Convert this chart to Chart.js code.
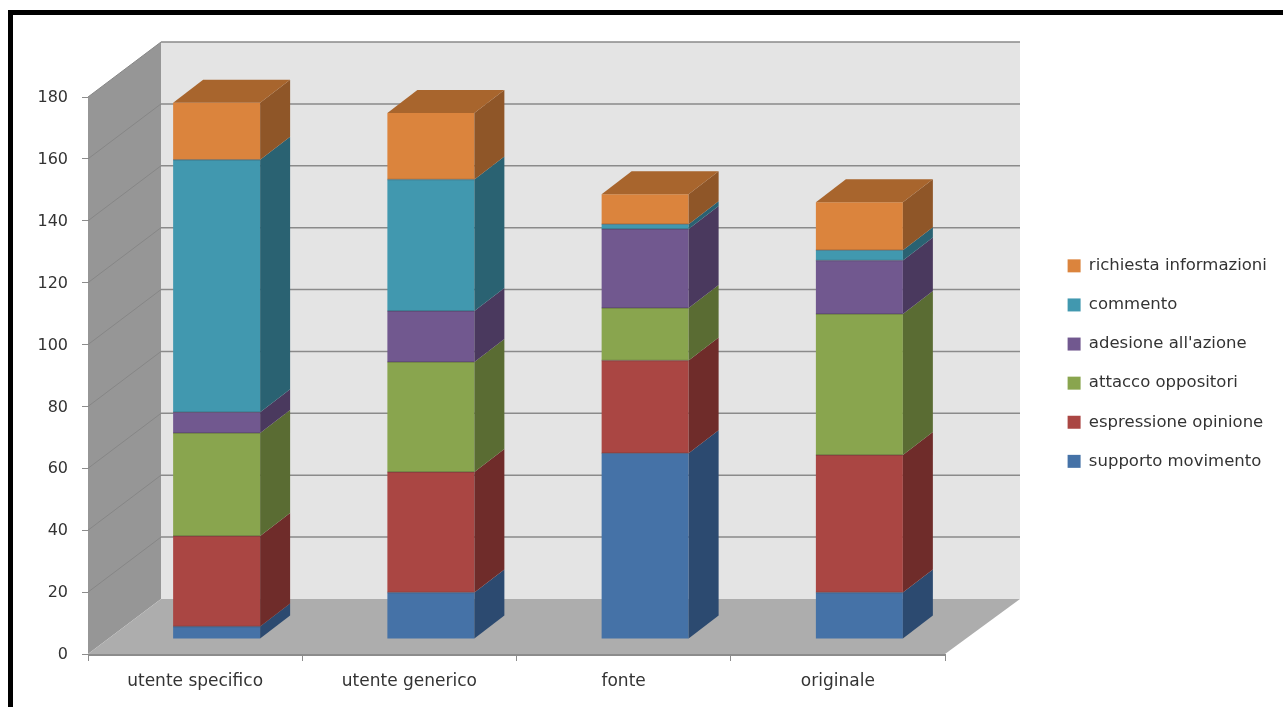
<!DOCTYPE html>
<html>
<head>
<meta charset="utf-8">
<title>Grafico</title>
<script src="https://cdn.jsdelivr.net/npm/chart.js@4"></script>
<style>
    html, body { margin: 0; padding: 0; background: #fff; overflow: hidden; }
    #wrap { position: absolute; left: 0; top: 0; width: 1283px; height: 707px; overflow: hidden; }
    #frame { position: absolute; left: 8px; top: 10px; right: 0; bottom: 0; border-top: 5px solid #000; border-left: 5px solid #000; pointer-events: none; }
</style>
</head>
<body>
<div id="wrap">
    <canvas id="chart" width="1283" height="707"></canvas>
    <div id="frame"></div>
</div>
<script>
const categories = ['utente specifico', 'utente generico', 'fonte', 'originale'];
const supportoMovimento = [4, 15, 60, 15];
const espressioneOpinione = [29.3, 39, 30, 44.5];
const attaccoOppositori = [33.3, 35.5, 17, 45.5];
const adesioneAzione = [6.7, 16.5, 25.5, 17.3];
const commento = [81.6, 42.5, 1.5, 3.3];
const richiestaInformazioni = [18.4, 21.5, 9.7, 15.5];

const frontColors = ['#4572a7', '#aa4643', '#89a54e', '#71588f', '#4198af', '#db843d'];
const sideColors = ['#2c4a70', '#6f2c2a', '#5a6c33', '#4a395e', '#2a6272', '#8f5628'];
const topColors = ['#35587f', '#853533', '#6a7f3c', '#57436e', '#327586', '#a8652d'];

// Offset of the wall/floor depth and of the bars inside it
const DEPTH_X = 73, DEPTH_X_RIGHT = 75, DEPTH_Y = -55;
const BAR_SHIFT_X = 21.5, BAR_SHIFT_Y = -15;
const BAR_DEPTH_X = 30, BAR_DEPTH_Y = -23;
const tickFont = { family: 'DejaVu Sans', size: 16 };
const categoryFont = { family: 'DejaVu Sans', size: 17 };
const legendFont = { family: 'DejaVu Sans', size: 16.5 };

function poly(ctx, pts, fill) {
    ctx.beginPath();
    pts.forEach((p, i) => i ? ctx.lineTo(p[0], p[1]) : ctx.moveTo(p[0], p[1]));
    ctx.closePath();
    ctx.fillStyle = fill;
    ctx.fill();
}

// Back wall, side wall, floor and the grid lines that run over them
const roomPlugin = {
    id: 'room',
    beforeDatasetsDraw(chart) {
        const { ctx, chartArea: a, scales: { y } } = chart;
        const top = y.getPixelForValue(180), base = y.getPixelForValue(0);
        const backL = a.left + DEPTH_X, backR = a.right + DEPTH_X_RIGHT;
        ctx.save();
        poly(ctx, [[backL, top + DEPTH_Y], [backR, top + DEPTH_Y], [backR, base + DEPTH_Y], [backL, base + DEPTH_Y]], '#e4e4e4');
        poly(ctx, [[a.left, top], [backL, top + DEPTH_Y], [backL, base + DEPTH_Y], [a.left, base]], '#969696');
        poly(ctx, [[a.left, base], [backL, base + DEPTH_Y], [backR, base + DEPTH_Y], [a.right, base]], '#adadad');
        y.ticks.forEach(t => {
            const py = y.getPixelForValue(t.value);
            if (t.value > 0) {
                ctx.strokeStyle = '#868686';
                ctx.lineWidth = 1;
                ctx.beginPath();
                ctx.moveTo(a.left, py);
                ctx.lineTo(backL, py + DEPTH_Y);
                ctx.stroke();
                ctx.strokeStyle = '#8a8a8a';
                ctx.lineWidth = 1.5;
                ctx.beginPath();
                ctx.moveTo(backL, py + DEPTH_Y);
                ctx.lineTo(backR, py + DEPTH_Y);
                ctx.stroke();
            }
        });
        // front edge of the floor
        ctx.strokeStyle = '#8c8c8c';
        ctx.lineWidth = 2;
        ctx.beginPath();
        ctx.moveTo(a.left, base + 1);
        ctx.lineTo(a.right, base + 1);
        ctx.stroke();
        ctx.restore();

        // the stacked columns stand in the middle of the floor
        ctx.save();
        ctx.translate(BAR_SHIFT_X, BAR_SHIFT_Y);
    },
    afterDatasetsDraw(chart) {
        const { ctx } = chart;
        const last = chart.data.datasets.length - 1;
        chart.data.datasets.forEach((ds, i) => {
            const meta = chart.getDatasetMeta(i);
            meta.data.forEach(bar => {
                const half = bar.width / 2;
                const r = bar.x + half, l = bar.x - half;
                poly(ctx, [[r, bar.y], [r + BAR_DEPTH_X, bar.y + BAR_DEPTH_Y], [r + BAR_DEPTH_X, bar.base + BAR_DEPTH_Y], [r, bar.base]], sideColors[i]);
                if (i === last) {
                    poly(ctx, [[l, bar.y], [l + BAR_DEPTH_X, bar.y + BAR_DEPTH_Y], [r + BAR_DEPTH_X, bar.y + BAR_DEPTH_Y], [r, bar.y]], topColors[i]);
                } else {
                    // darker seam between two stacked segments
                    ctx.strokeStyle = 'rgba(50,40,50,0.3)';
                    ctx.lineWidth = 1.5;
                    ctx.beginPath();
                    ctx.moveTo(l, bar.y);
                    ctx.lineTo(r, bar.y);
                    ctx.stroke();
                }
            });
        });
        ctx.restore();
    },
    // pin the legend to its slot on the right
    afterUpdate(chart) {
        const lg = chart.legend;
        lg.left = 1045;
        lg.right = 1283;
        lg.top = 235;
        lg.bottom = 520;
    }
};

const seriesValues = [supportoMovimento, espressioneOpinione, attaccoOppositori, adesioneAzione, commento, richiestaInformazioni];
const seriesNames = ['supporto movimento', 'espressione opinione', 'attacco oppositori', "adesione all'azione", 'commento', 'richiesta informazioni'];

new Chart(document.getElementById('chart').getContext('2d'), {
    type: 'bar',
    data: {
        labels: categories,
        datasets: seriesValues.map((data, i) => ({
            label: seriesNames[i],
            data,
            backgroundColor: frontColors[i],
            borderWidth: 0,
            barPercentage: 0.406,
            categoryPercentage: 1
        }))
    },
    plugins: [roomPlugin],
    options: {
        responsive: false,
        animation: false,
        layout: { padding: { left: 0, top: 97, right: 338, bottom: 707 - 654 - 40 } },
        plugins: {
            tooltip: { enabled: false },
            legend: {
                position: 'chartArea',
                reverse: true,
                align: 'start',
                labels: {
                    boxWidth: 13,
                    boxHeight: 13,
                    padding: 22.6,
                    color: '#333',
                    font: legendFont
                }
            }
        },
        scales: {
            x: {
                stacked: true,
                border: { display: false },
                grid: { display: true, drawOnChartArea: false, drawTicks: true, tickLength: 7, color: '#8c8c8c', offset: true },
                ticks: { color: '#333', padding: 10, maxRotation: 0, font: categoryFont },
                afterFit(s) { s.height = 40; }
            },
            y: {
                stacked: true,
                min: 0,
                max: 180,
                border: { display: false },
                grid: { drawOnChartArea: false, drawTicks: true, tickLength: 6, color: '#8c8c8c' },
                ticks: { stepSize: 20, color: '#333', padding: 14, labelOffset: 1, font: tickFont },
                afterFit(s) { s.width = 88; }
            }
        }
    }
});
</script>
</body>
</html>
